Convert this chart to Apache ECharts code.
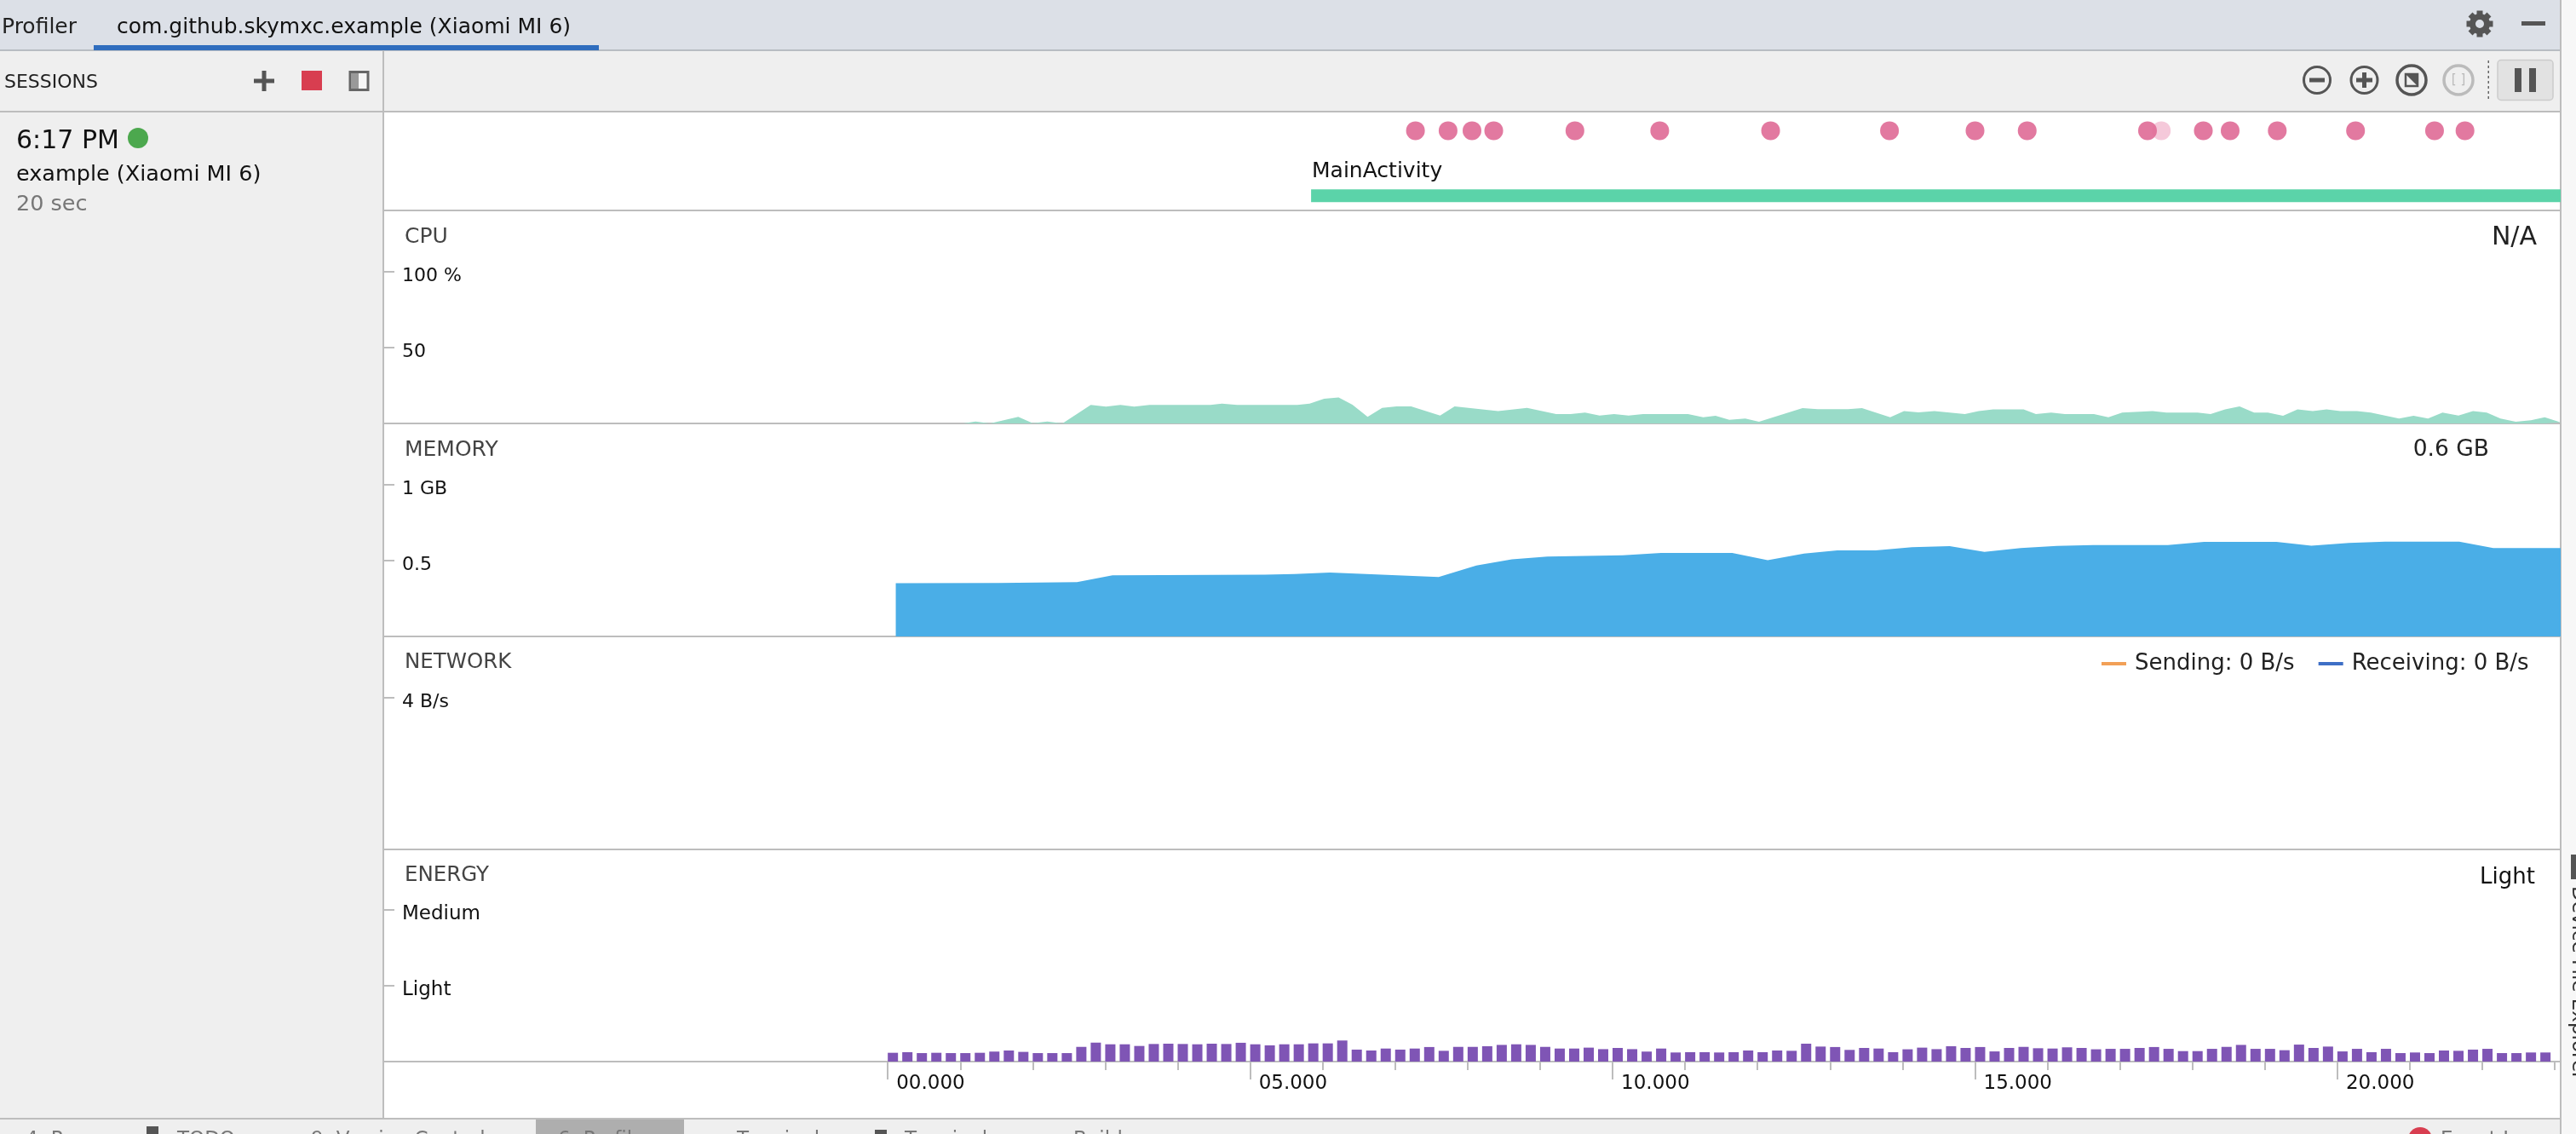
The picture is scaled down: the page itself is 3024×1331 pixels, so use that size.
<!DOCTYPE html>
<html><head><meta charset="utf-8">
<style>html,body{margin:0;padding:0;background:#fff;overflow:hidden}#c{width:3024px;height:1331px}</style>
<script src="https://cdn.jsdelivr.net/npm/echarts@6/dist/echarts.min.js"></script>
</head><body><div id="c"></div>
<script>
// ---------- data ----------
const timeTickLabels = ['00.000','05.000','10.000','15.000','20.000'];
const majorTicks = [0,5,10,15,20];
const minorTicks = [0,1,2,3,4,5,6,7,8,9,10,11,12,13,14,15,16,17,18,19,20,21,22,23];
const eventTimes = [7.28,7.73,8.06,8.36,9.48,10.65,12.18,13.82,15.0,15.72,17.38,18.15,18.52,19.17,20.25,21.34,21.76];
const fadedEventTimes = [17.57];
const activityName = 'MainActivity';
const activitySpan = [5.84,23.08];
const cpuTimes = [1.04,1.21,1.41,1.80,2.00,2.20,2.41,2.80,3.01,3.21,3.40,3.61,4.45,4.61,4.82,5.65,5.82,6.02,6.22,6.41,6.62,6.82,7.02,7.22,7.62,7.82,8.42,8.82,9.22,9.42,9.62,9.82,10.02,10.22,10.42,11.04,11.25,11.42,11.61,11.83,12.02,12.62,12.83,13.25,13.44,13.83,14.02,14.22,14.44,14.86,15.05,15.25,15.67,15.84,16.05,16.24,16.64,16.84,17.03,17.45,17.64,18.07,18.25,18.45,18.65,18.85,19.04,19.25,19.45,19.66,19.85,20.04,20.27,20.46,20.85,21.05,21.25,21.45,21.67,21.87,22.06,22.25,22.46,22.67,22.86,23.08];
const cpuValues = [0,1.3,0,4.3,0.2,1.3,0,12.2,11.1,12.2,11.1,12.2,12.2,13.1,12.2,12.2,13.1,16.3,17.2,12.4,4.3,10.3,11.2,11.2,5.2,11.2,8.2,10.3,6.2,6.2,7.1,5.2,6.2,5.2,6.2,6.2,4.1,5.1,2.4,3.2,1.1,10.1,9.4,9.4,10.1,4.1,8.1,7.3,8.1,6.2,8.2,9.2,9.2,6.2,7.1,6.2,6.2,4.1,7.1,8.1,7.1,7.1,6.2,9.2,11.2,7.1,7.1,5.1,9.2,8.2,9.2,8.2,8.2,7.1,3.2,5.1,3.2,7.1,5.2,8.1,7.1,3.2,1.1,2.1,4.1,0.7];
const memTimes = [0.11,1.53,2.61,3.10,5.20,5.61,6.10,7.60,8.12,8.61,9.10,10.14,10.67,11.65,12.14,12.64,13.10,13.63,14.13,14.65,15.13,15.63,16.13,16.63,17.66,18.16,19.16,19.64,20.16,20.66,21.68,22.15,23.08];
const memValues = [0.351,0.353,0.358,0.403,0.407,0.411,0.422,0.392,0.467,0.508,0.527,0.535,0.550,0.550,0.503,0.546,0.568,0.568,0.589,0.595,0.557,0.583,0.597,0.602,0.602,0.623,0.623,0.598,0.617,0.625,0.625,0.583,0.583];
const energyStart = 0.07, energyStep = 0.2;
const energyValues = [5.8,6.2,5.6,5.8,5.6,5.6,5.8,6.6,7.3,6.4,5.6,5.6,5.6,9.7,12.5,11.4,11.4,10.3,11.6,11.8,11.6,11.4,11.8,11.6,12.4,11.4,10.7,11.4,11.4,12.0,12.0,13.9,7.9,7.3,8.6,7.9,8.6,9.6,7.1,
9.7,9.7,10.1,11.0,11.4,11.0,9.7,8.6,8.6,9.2,8.2,9.0,8.2,6.6,8.6,6.0,6.2,6.2,6.0,6.2,7.3,6.2,7.3,7.1,11.8,9.9,9.6,7.7,9.0,8.6,6.2,8.1,9.2,8.2,10.1,9.0,9.6,6.7,9.0,9.7,8.8,
8.6,9.4,9.0,8.1,8.4,8.4,9.0,9.6,8.4,6.9,6.9,8.4,9.7,11.0,8.4,8.4,7.5,11.2,9.0,9.9,6.7,8.4,6.2,8.4,5.6,6.0,5.6,7.3,7.1,7.9,8.4,5.6,5.6,6.0,6.0];
const cpuTicks = [50,100], memTicks = [0.5,1], netTicks = [4], energyTicks = [50,100];
const energyTickNames = {50:'Light',100:'Medium'};
const netLegend = {Sending:'0 B/s',Receiving:'0 B/s'};

// ---------- layout and style ----------
const FONT = 'DejaVu Sans';
const GRAY = '#BDBDBD', BG = '#EFEFEF', ICON = '#555555', RED = '#D83E50';
const PL = 450, PR = 3006, AXMIN = -6.96, AXMAX = 23.08;
const panels = [{top:131,bottom:247},{top:247,bottom:497},{top:497,bottom:747},{top:747,bottom:997},{top:997,bottom:1246}];
const pxPerUnit = 178;

const grid = panels.map(p=>({left:PL,width:PR-PL,top:p.top,height:p.bottom-p.top}));
const xBase = i=>({gridIndex:i,type:'value',position:'bottom',min:AXMIN,max:AXMAX,splitLine:{show:false},axisLabel:{show:false},axisTick:{show:false},
  axisLine:{show:true,onZero:false,lineStyle:{color:GRAY,width:2}}});
const xAxis = [xBase(0),xBase(1),xBase(2),xBase(3),
  Object.assign(xBase(4),{axisTick:{show:true,length:10,customValues:minorTicks,lineStyle:{color:GRAY,width:2}}}),
  Object.assign(xBase(4),{axisLine:{show:false,onZero:false},
    axisTick:{show:true,length:21,customValues:majorTicks,lineStyle:{color:GRAY,width:2}},
    axisLabel:{show:true,customValues:majorTicks,margin:15,align:'left',padding:[0,0,0,10],color:'#111',fontFamily:FONT,fontSize:23,
      formatter:v=>timeTickLabels[majorTicks.indexOf(v)]}})];
const yBase = (i,maxv,ticks,fmt,size)=>({gridIndex:i,type:'value',position:'left',min:0,max:maxv,splitLine:{show:false},axisLine:{show:false,onZero:false},
  axisTick:{show:true,inside:true,length:13,customValues:ticks,lineStyle:{color:GRAY,width:2}},
  axisLabel:{show:true,inside:true,customValues:ticks,margin:22,verticalAlign:'top',lineHeight:10,color:'#111',fontFamily:FONT,fontSize:size||22,formatter:fmt}});
const eventY = {gridIndex:0,type:'value',min:0,max:1,show:false};
const yAxis = [eventY,
  yBase(1,250/1.78,cpuTicks,v=>v===100?'100 %':String(v)),
  yBase(2,250/pxPerUnit,memTicks,v=>v===1?'1 GB':String(v)),
  yBase(3,250/(pxPerUnit/4),netTicks,v=>v+' B/s'),
  yBase(4,249/1.78,energyTicks,v=>energyTickNames[v],23)];

const area = (name,i,times,vals,color)=>({name,type:'line',xAxisIndex:i,yAxisIndex:i,data:times.map((t,k)=>[t,vals[k]]),
  symbol:'none',silent:true,lineStyle:{width:0},areaStyle:{color,opacity:1},z:1});
const series = [
  {name:'Events',type:'scatter',xAxisIndex:0,yAxisIndex:0,data:eventTimes.map(t=>[t,0.807]),symbolSize:22,itemStyle:{color:'#DF6E98',opacity:0.92},z:4},
  {name:'Events (fading)',type:'scatter',xAxisIndex:0,yAxisIndex:0,data:fadedEventTimes.map(t=>[t,0.807]),symbolSize:22,itemStyle:{color:'#F3BCD1'},z:3},
  {name:activityName,type:'line',xAxisIndex:0,yAxisIndex:0,data:activitySpan.map(t=>[t,0.148]),symbol:'none',lineStyle:{color:'#5BD3A9',width:15,cap:'butt'},z:2},
  area('CPU',1,cpuTimes,cpuValues,'#99DBC8'),
  area('Memory',2,memTimes,memValues,'#4AAEE7'),
  {name:'Sending',type:'line',xAxisIndex:3,yAxisIndex:3,data:[],symbol:'none',color:'#F2A057'},
  {name:'Receiving',type:'line',xAxisIndex:3,yAxisIndex:3,data:[],symbol:'none',color:'#3E6FC6'},
  {name:'Energy',type:'bar',xAxisIndex:4,yAxisIndex:4,data:energyValues.map((v,i)=>[energyStart+i*energyStep,v]),barWidth:12,itemStyle:{color:'#7F55B5'},silent:true,z:1}
];

// ---------- application chrome ----------
const g = [];
const rect = (x,y,w,h,fill,extra)=>g.push(Object.assign({type:'rect',shape:{x,y,width:w,height:h},style:{fill},silent:true},extra||{}));
const stroke = (x,y,w,h,col,lw,fill,r)=>g.push({type:'rect',shape:{x,y,width:w,height:h,r:r||0},style:{stroke:col,lineWidth:lw,fill:fill||'transparent'},silent:true});
const ring = (x,y,r,col,lw)=>g.push({type:'circle',shape:{cx:x,cy:y,r},style:{stroke:col,lineWidth:lw,fill:'transparent'},silent:true});
const text = (x,y,s,size,fill,extra)=>g.push(Object.assign({type:'text',x,y,silent:true,style:{text:s,font:`${size}px "${FONT}"`,fill,textVerticalAlign:'middle',verticalAlign:'middle',align:(extra&&extra.align)||'left'}},extra&&extra.rotation!==undefined?{rotation:extra.rotation}:{}));

rect(0,0,3006,59,'#DCE0E7');
rect(0,59,3006,72,BG);
rect(0,131,449,1182,BG);
rect(3006,0,18,1331,'#F7F7F7');
rect(0,1313,3006,18,BG);
rect(629,1313,174,18,'#AEAEAE');
rect(0,58,3006,2,'#B8BDC3');
rect(110,53,593,6,'#2F6DBE');
rect(0,130,3006,2,GRAY);
rect(449,59,2,1254,GRAY);
rect(3005,0,2,1331,GRAY);
rect(0,1312,3006,2,GRAY);

text(2,32,'Profiler',25,'#222');
text(137,32,'com.github.skymxc.example (Xiaomi MI 6)',25,'#111');
text(5,97,'SESSIONS',22,'#222');
rect(298,92.5,24,5,ICON); rect(307.5,83,5,24,ICON);
rect(354,83,24,23,RED);
stroke(411,84.5,21,21,'#666',3,'#F5F5F5'); rect(412,86,9,18,'#999');
text(19,166,'6:17 PM',30,'#111');
g.push({type:'circle',shape:{cx:162,cy:162,r:12},style:{fill:'#4CA84E'},silent:true});
text(19,205,'example (Xiaomi MI 6)',25.5,'#111');
text(19,240,'20 sec',25.5,'#777');

// gear and minimise
ring(2911,28,8.5,'#555',7);
for(let k=0;k<8;k++) g.push({type:'rect',x:2911,y:28,rotation:k*Math.PI/4,shape:{x:-3.5,y:-15.5,width:7,height:6},style:{fill:'#555'},silent:true});
rect(2960,25,28,5,ICON);
// toolbar
ring(2720,94,15.5,ICON,3); rect(2711,91.5,18,5,ICON);
ring(2775.5,94,15.5,ICON,3); rect(2766,91.5,19,5,ICON); rect(2773,85,5,18,ICON);
ring(2831,94,17,ICON,3.5); stroke(2824,87,14,14,ICON,2.5);
g.push({type:'polygon',shape:{points:[[2824,87],[2838,87],[2838,101]]},style:{fill:ICON},silent:true});
ring(2886,94,17,'#BBBBBB',3.5); text(2886,94,'[ ]',15,'#BBBBBB',{align:'center'});
for(let y=71;y<117;y+=6) rect(2920.5,y,1.5,3,'#666');
stroke(2932,70.5,65,47,'#CCCCCC',1.5,'#E2E2E2',4);
rect(2952,80,8,28,ICON); rect(2969,80,8,28,ICON);

// panel captions
text(1540,201,activityName,25,'#111');
text(475,278,'CPU',25,'#444');
text(475,528,'MEMORY',25,'#444');
text(475,778,'NETWORK',24.5,'#444');
text(475,1028,'ENERGY',24.5,'#444');
text(2978,279,'N/A',30,'#222',{align:'right'});
text(2922,528,'0.6 GB',26.5,'#222',{align:'right'});
text(2976,1030,'Light',26,'#111',{align:'right'});

// side tool window and clipped bottom tool bar
text(3026,1040,'Device File Explorer',23,'#333',{rotation:-Math.PI/2});
rect(3018,1003,8,29,'#555');
[[30,'4: Run'],[208,'TODO'],[365,'9: Version Control'],[655,'6: Profiler'],[865,'Terminal'],[1062,'Terminal'],[1260,'Build'],[2865,'Event Log']].forEach(a=>text(a[0],1338,a[1],23,'#777'));
rect(172,1322,14,9,ICON); rect(1027,1326,14,5,ICON);
g.push({type:'circle',shape:{cx:2841,cy:1337,r:14},style:{fill:RED},silent:true});

const chart = echarts.init(document.getElementById('c'),null,{renderer:'canvas',width:3024,height:1331});
chart.setOption({
  animation:false,backgroundColor:'#fff',grid,xAxis,yAxis,series,graphic:{elements:g},
  legend:{show:true,data:Object.keys(netLegend),left:2462,top:761,itemWidth:29,itemHeight:4,itemGap:28,icon:'rect',selectedMode:false,
    textStyle:{fontFamily:FONT,fontSize:26,color:'#222',padding:[0,0,0,5]},formatter:n=>`${n}: ${netLegend[n]}`}
});
</script></body></html>
